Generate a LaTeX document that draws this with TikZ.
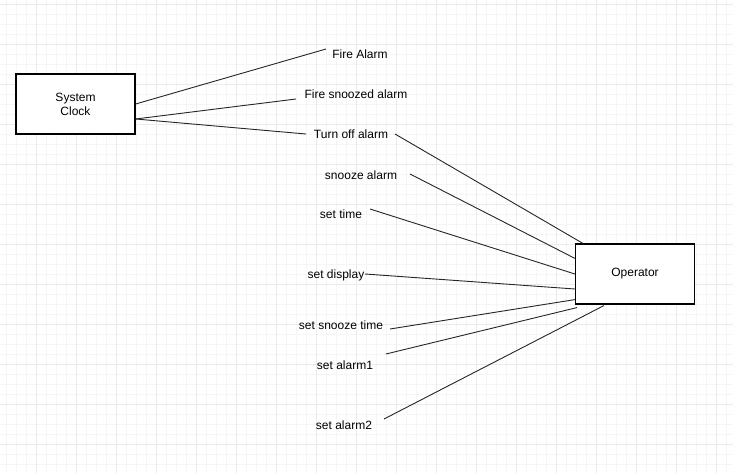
\documentclass[tikz,border=0pt]{standalone}
\usepackage{fontspec}
\setmainfont{Liberation Sans}
\begin{document}
\begin{tikzpicture}[x=1pt,y=-1pt,
  box/.style={draw=black,line width=1.2pt,fill=white,minimum width=119pt,minimum height=60pt,inner sep=0pt,align=center,font=\fontsize{12}{14}\selectfont},
  lbl/.style={inner sep=0pt,font=\fontsize{12}{14}\selectfont},
  conn/.style={draw=black!85,line width=0.9pt}]
\useasboundingbox (0,0) rectangle (733,473);
\fill[white] (0,0) rectangle (733,473);
\foreach \x in {6,16,...,733} \draw[color=black!4,line width=0.5pt] (\x,0) -- (\x,473);
\foreach \y in {4,14,...,473} \draw[color=black!4,line width=0.5pt] (0,\y) -- (733,\y);
\foreach \x in {36,76,...,733} \draw[color=black!8,line width=0.7pt] (\x,0) -- (\x,473);
\foreach \y in {4,44,...,473} \draw[color=black!8,line width=0.7pt] (0,\y) -- (733,\y);

\node[box] (sc) at (75.5,104) {System\\Clock};
\node[box] (op) at (635,274) {Operator};

\node[lbl] (fa) at (360,54) {Fire Alarm};
\node[lbl] (fs) at (356,94) {Fire snoozed alarm};
\node[lbl] (to) at (351,134) {Turn off alarm};
\node[lbl] (sa) at (361,175) {snooze alarm};
\node[lbl] (st) at (341,214) {set time};
\node[lbl] (sd) at (336,275) {set display};
\node[lbl] (sst) at (341,325) {set snooze time};
\node[lbl] (a1) at (345,365) {set alarm1};
\node[lbl] (a2) at (344,425) {set alarm2};

\coordinate (cfa) at (326,49);
\coordinate (cfs) at (296,99);
\coordinate (cto) at (306,134);
\coordinate (ctoR) at (395,134);
\coordinate (csa) at (410,174);
\coordinate (cst) at (370,209);
\coordinate (csd) at (365,274);
\coordinate (csst) at (390,329);
\coordinate (ca1) at (386,354);
\coordinate (ca2) at (384,419);

\draw[conn] (sc.east) -- (cfa);
\draw[conn] ([yshift=-15pt]sc.east) -- (cfs);
\draw[conn] ([yshift=-15pt]sc.east) -- (cto);

\draw[conn] (ctoR) -- ([xshift=8pt]op.north west);
\draw[conn] (csa) -- ([yshift=-15pt]op.north west);
\draw[conn] (cst) -- (op.west);
\draw[conn] (csd) -- ([yshift=-15pt]op.west);
\draw[conn] (csst) -- ([yshift=5pt]op.south west);
\draw[conn] (ca1) -- ([xshift=2pt,yshift=-3pt]op.south west);
\draw[conn] (ca2) -- ([xshift=29pt,yshift=-1pt]op.south west);
\end{tikzpicture}
\end{document}
